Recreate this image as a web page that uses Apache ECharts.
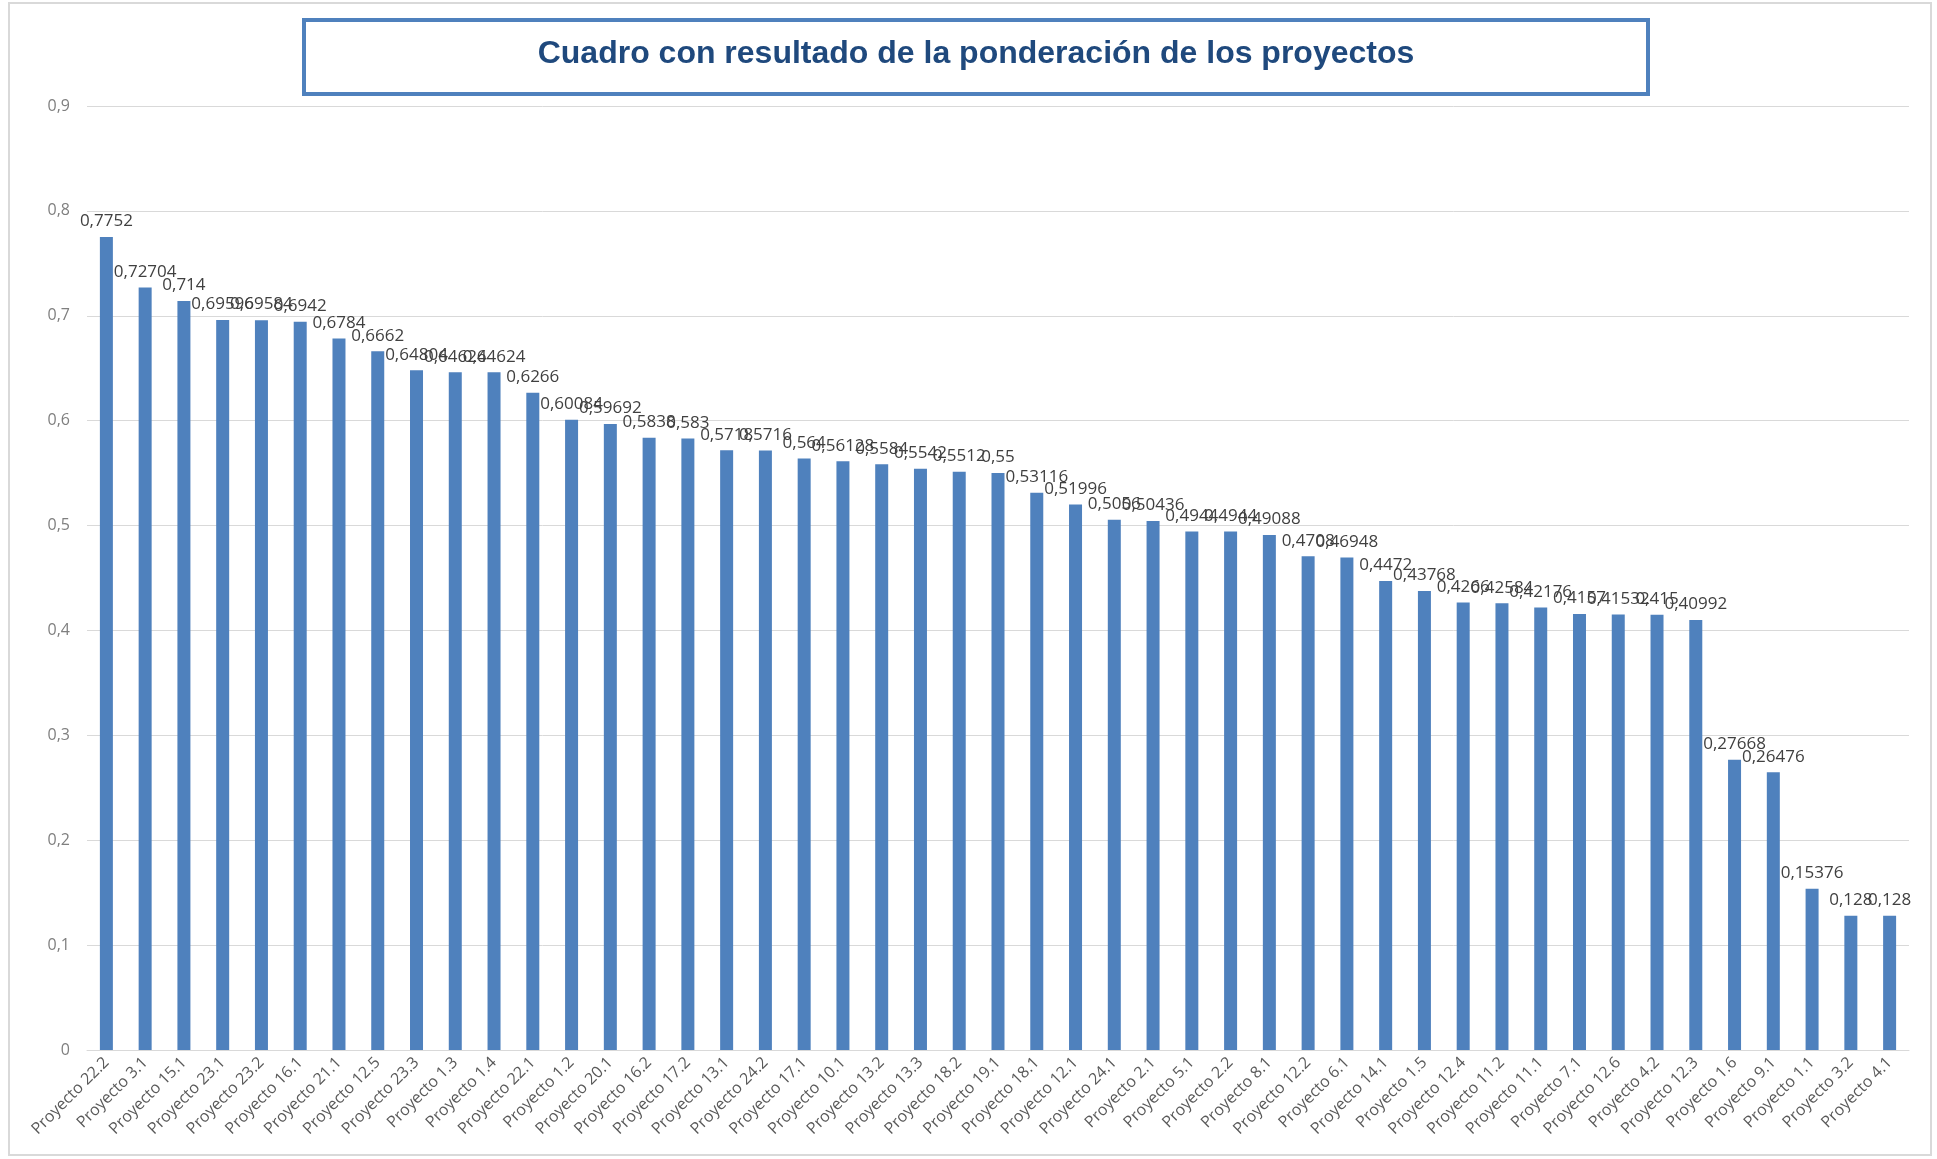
<!DOCTYPE html>
<html>
<head>
<meta charset="utf-8">
<script src="https://cdn.jsdelivr.net/npm/echarts@6/dist/echarts.min.js"></script>
<style>
  html, body { margin: 0; padding: 0; background: #ffffff; }
  #chart { width: 1937px; height: 1159px; }
</style>
</head>
<body>
<div id="chart"></div>
<script>
// Projects, ordered by weighted score
const proyectos = [
  'Proyecto 22.2', 'Proyecto 3.1', 'Proyecto 15.1', 'Proyecto 23.1', 'Proyecto 23.2',
  'Proyecto 16.1', 'Proyecto 21.1', 'Proyecto 12.5', 'Proyecto 23.3', 'Proyecto 1.3',
  'Proyecto 1.4', 'Proyecto 22.1', 'Proyecto 1.2', 'Proyecto 20.1', 'Proyecto 16.2',
  'Proyecto 17.2', 'Proyecto 13.1', 'Proyecto 24.2', 'Proyecto 17.1', 'Proyecto 10.1',
  'Proyecto 13.2', 'Proyecto 13.3', 'Proyecto 18.2', 'Proyecto 19.1', 'Proyecto 18.1',
  'Proyecto 12.1', 'Proyecto 24.1', 'Proyecto 2.1', 'Proyecto 5.1', 'Proyecto 2.2',
  'Proyecto 8.1', 'Proyecto 12.2', 'Proyecto 6.1', 'Proyecto 14.1', 'Proyecto 1.5',
  'Proyecto 12.4', 'Proyecto 11.2', 'Proyecto 11.1', 'Proyecto 7.1', 'Proyecto 12.6',
  'Proyecto 4.2', 'Proyecto 12.3', 'Proyecto 1.6', 'Proyecto 9.1', 'Proyecto 1.1',
  'Proyecto 3.2', 'Proyecto 4.1'
];

// Weighted score of each project
const ponderacion = [
  0.7752, 0.72704, 0.714, 0.69596, 0.69584,
  0.6942, 0.6784, 0.6662, 0.64804, 0.64624,
  0.64624, 0.6266, 0.60084, 0.59692, 0.5838,
  0.583, 0.5718, 0.5716, 0.564, 0.56128,
  0.5584, 0.5542, 0.5512, 0.55, 0.53116,
  0.51996, 0.5056, 0.50436, 0.4944, 0.4944,
  0.49088, 0.4708, 0.46948, 0.4472, 0.43768,
  0.4266, 0.42584, 0.42176, 0.4157, 0.41532,
  0.415, 0.40992, 0.27668, 0.26476, 0.15376,
  0.128, 0.128
];

// Value axis ticks
const ejeMin = 0;
const ejeMax = 0.9;
const ejePaso = 0.1;

const titulo = 'Cuadro con resultado de la ponderación de los proyectos';

const coma = v => String(v).replace('.', ',');

const chart = echarts.init(document.getElementById('chart'), null, { renderer: 'canvas' });

chart.setOption({
  backgroundColor: '#ffffff',
  animation: false,
  textStyle: { fontFamily: '"Open Sans", "Liberation Sans", sans-serif' },
  grid: { left: 87, right: 28, top: 106, bottom: 109, containLabel: false },
  graphic: [
    {
      type: 'rect',
      silent: true,
      shape: { x: 9, y: 3, width: 1922, height: 1152 },
      style: { fill: 'none', stroke: '#d9d9d9', lineWidth: 2 }
    },
    {
      type: 'rect',
      silent: true,
      shape: { x: 304, y: 20, width: 1344, height: 74 },
      style: { fill: '#ffffff', stroke: '#4f81bd', lineWidth: 4 }
    },
    {
      type: 'text',
      silent: true,
      x: 976,
      y: 54,
      style: {
        text: titulo,
        fill: '#1f497d',
        font: 'bold 32px "Liberation Sans", Arial, sans-serif',
        align: 'center',
        verticalAlign: 'middle'
      }
    }
  ],
  xAxis: {
    type: 'category',
    data: proyectos,
    axisLine: { show: true, lineStyle: { color: '#d9d9d9', width: 1 } },
    axisTick: { show: false },
    axisLabel: {
      interval: 0,
      rotate: 45,
      margin: 10,
      color: '#595959',
      fontSize: 16
    }
  },
  yAxis: {
    type: 'value',
    min: ejeMin,
    max: ejeMax,
    interval: ejePaso,
    axisLine: { show: false },
    axisTick: { show: false },
    splitLine: { lineStyle: { color: '#d9d9d9', width: 1 } },
    axisLabel: {
      margin: 17,
      color: '#7f7f7f',
      fontSize: 16,
      formatter: v => coma(Math.round(v * 10) / 10)
    }
  },
  series: [
    {
      type: 'bar',
      data: ponderacion,
      barWidth: 13,
      itemStyle: { color: '#4f81bd' },
      label: {
        show: true,
        position: 'top',
        distance: 7,
        color: '#404040',
        fontSize: 17,
        formatter: p => coma(p.value)
      }
    }
  ]
});
</script>
</body>
</html>
